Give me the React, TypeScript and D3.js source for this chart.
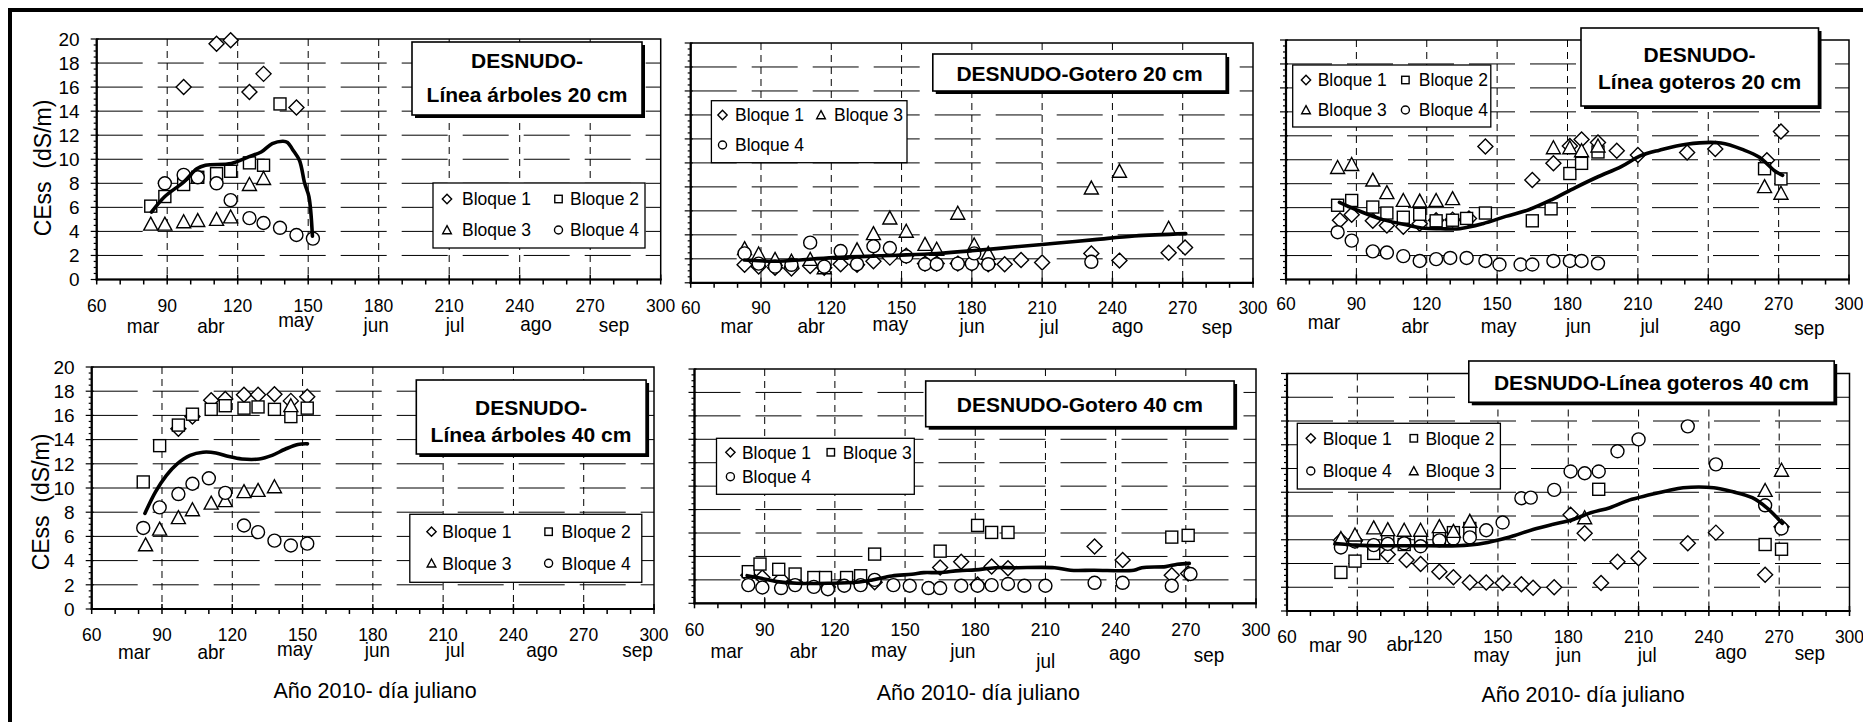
import React from "react";
import * as d3 from "d3";

type Pt = [number, number];

const X_TICKS = [60, 90, 120, 150, 180, 210, 240, 270, 300];
const X_MINOR = d3.range(60, 301, 10);
const GRID_X = [90, 120, 150, 180, 210, 240, 270];
const Y_TICKS = [0, 2, 4, 6, 8, 10, 12, 14, 16, 18, 20];
const Y_MINOR = d3.range(0, 20.01, 0.5);
const MONTHS = ["mar", "abr", "may", "jun", "jul", "ago", "sep"];
const Y_LABEL = "CEss  (dS/m)";
const X_LABEL = "Año 2010- día juliano";

// ---------- Panel 1: DESNUDO- Línea árboles 20 cm
const p1Title = ["DESNUDO-", "Línea árboles 20 cm"];
const p1B1: Pt[] = [[97, 16.0], [111, 19.6], [117, 19.9], [125, 15.6], [131, 17.1], [145, 14.3]];
const p1B2: Pt[] = [[83, 6.1], [89, 6.9], [97, 7.9], [103, 8.5], [111, 8.8], [117, 9.0], [125, 9.7], [131, 9.5], [138, 14.6]];
const p1B3: Pt[] = [[83, 4.6], [89, 4.6], [97, 4.8], [103, 4.9], [111, 5.0], [117, 5.2], [125, 7.9], [131, 8.4]];
const p1B4: Pt[] = [[89, 8.0], [97, 8.7], [103, 8.5], [111, 8.0], [117, 6.6], [125, 5.1], [131, 4.7], [138, 4.3], [145, 3.7], [152, 3.4]];
const p1Line: Pt[] = [[83.3, 5.6], [89, 6.9], [97, 8.1], [102.6, 9.2], [106.3, 9.5], [117.3, 9.65], [124.6, 10.2], [130, 10.6], [134.7, 11.3], [139.3, 11.5], [141.2, 11.4], [143.4, 10.8], [146.3, 9.9], [148.5, 8.0], [150.3, 6.9], [151.8, 3.6]];

// ---------- Panel 2: DESNUDO-Gotero 20 cm
const p2Title = ["DESNUDO-Gotero 20 cm"];
const p2B1: Pt[] = [[83, 1.5], [89, 1.35], [96, 1.25], [103, 1.2], [111, 1.4], [117, 1.25], [124, 1.55], [131, 1.5], [138, 1.8], [145, 2.1], [152, 2.25], [160, 1.6], [165, 1.6], [174, 1.6], [180, 1.6], [187, 1.55], [194, 1.55], [201, 1.9], [210, 1.7], [231, 2.45], [243, 1.85], [264, 2.5], [271, 2.95]];
const p2B3: Pt[] = [[83, 2.85], [89, 2.4], [96, 1.95], [103, 1.8], [111, 1.95], [117, 1.25], [124, 2.45], [131, 2.75], [138, 4.1], [145, 5.4], [152, 4.3], [160, 3.2], [165, 2.8], [174, 5.8], [181, 3.15], [187, 2.45], [231, 7.9], [243, 9.3], [264, 4.55]];
const p2B4: Pt[] = [[83, 2.45], [89, 1.6], [96, 1.35], [103, 1.5], [111, 3.35], [117, 1.35], [124, 2.65], [131, 1.55], [138, 3.05], [145, 2.9], [152, 2.2], [160, 1.55], [165, 1.55], [174, 1.6], [180, 1.6], [181, 2.45], [187, 1.55], [231, 1.75]];
const p2Line: Pt[] = [[82.8, 1.9], [97.5, 1.8], [121, 2.1], [148, 2.3], [165, 2.45], [180, 2.67], [198.7, 3.0], [215.6, 3.3], [232.5, 3.6], [249.4, 3.9], [271.3, 4.1]];

// ---------- Panel 3: DESNUDO- Línea goteros 20 cm
const p3Title = ["DESNUDO-", "Línea goteros 20 cm"];
const p3B1: Pt[] = [[83, 4.95], [88, 5.4], [97, 4.9], [103, 4.5], [110, 4.4], [117, 4.65], [124, 4.95], [131, 5.0], [138, 5.1], [145, 11.1], [165, 8.3], [174, 9.7], [181, 11.15], [186, 11.7], [193, 11.45], [201, 10.75], [210, 10.4], [231, 10.6], [243, 10.9], [265, 9.95], [271, 12.35]];
const p3B2: Pt[] = [[82, 6.2], [88, 6.6], [97, 6.05], [103, 5.55], [110, 5.2], [117, 5.45], [124, 4.9], [131, 4.95], [137, 5.1], [145, 5.55], [165, 4.9], [173, 5.9], [181, 8.85], [186, 9.7], [193, 10.65], [264, 9.25], [271, 8.4]];
const p3B3: Pt[] = [[82, 9.35], [88, 9.6], [97, 8.3], [103, 7.25], [110, 6.6], [117, 6.55], [124, 6.6], [131, 6.75], [174, 11.0], [181, 11.0], [186, 10.75], [193, 11.15], [264, 7.75], [271, 7.2]];
const p3B4: Pt[] = [[82, 3.95], [88, 3.25], [97, 2.35], [103, 2.25], [110, 1.95], [117, 1.55], [124, 1.7], [130, 1.8], [137, 1.8], [145, 1.55], [151, 1.25], [160, 1.25], [165, 1.25], [174, 1.55], [181, 1.55], [186, 1.55], [193, 1.35]];
const p3Line: Pt[] = [[82.8, 6.45], [91.5, 5.7], [101.3, 5.0], [111.2, 4.57], [117.8, 4.3], [125.9, 4.24], [134, 4.24], [143.9, 4.66], [153.7, 5.27], [163.5, 5.83], [173.4, 6.68], [183.2, 7.66], [193, 8.58], [202.9, 9.43], [211, 10.32], [219.2, 10.8], [230.7, 11.3], [245.4, 11.4], [255.3, 10.8], [261.8, 10.2], [268.4, 9.06], [271.7, 8.7]];

// ---------- Panel 4: DESNUDO- Línea árboles 40 cm
const p4Title = ["DESNUDO-", "Línea árboles 40 cm"];
const p4B1: Pt[] = [[97, 14.9], [103, 15.9], [111, 17.25], [117, 17.35], [125, 17.7], [131, 17.7], [138, 17.75], [145, 17.2], [152, 17.55]];
const p4B2: Pt[] = [[82, 10.5], [89, 13.5], [97, 15.2], [103, 16.1], [111, 16.5], [117, 16.8], [125, 16.6], [131, 16.7], [138, 16.5], [145, 15.9], [152, 16.6]];
const p4B3: Pt[] = [[83, 5.3], [89, 6.6], [97, 7.55], [103, 8.2], [111, 8.75], [117, 8.95], [125, 9.7], [131, 9.8], [138, 10.1], [145, 16.8]];
const p4B4: Pt[] = [[82, 6.7], [89, 8.4], [97, 9.5], [103, 10.35], [110, 10.8], [117, 9.6], [125, 6.9], [131, 6.35], [138, 5.65], [145, 5.25], [152, 5.4]];
const p4Line: Pt[] = [[82.7, 7.9], [87.3, 9.7], [91.9, 11.05], [96.5, 12.0], [102, 12.7], [107.5, 12.96], [113, 12.9], [118.6, 12.6], [124.1, 12.4], [131.5, 12.4], [137, 12.7], [142.5, 13.2], [148, 13.6], [152.1, 13.65]];

// ---------- Panel 5: DESNUDO-Gotero 40 cm
const p5Title = ["DESNUDO-Gotero 40 cm"];
const p5B1: Pt[] = [[83, 2.4], [89, 2.2], [97, 2.05], [103, 1.8], [111, 1.75], [117, 1.4], [124, 1.75], [131, 1.7], [137, 1.8], [165, 3.05], [174, 3.55], [181, 1.6], [187, 3.15], [194, 3.0], [231, 4.85], [243, 3.7], [264, 2.4], [271, 2.55]];
const p5B3: Pt[] = [[83, 2.7], [88, 3.35], [96, 2.9], [103, 2.5], [111, 2.2], [116, 2.2], [125, 2.2], [131, 2.35], [137, 4.2], [165, 4.45], [181, 6.65], [187, 6.05], [194, 6.05], [264, 5.65], [271, 5.8]];
const p5B4: Pt[] = [[83, 1.55], [89, 1.35], [97, 1.3], [103, 1.55], [111, 1.4], [117, 1.2], [124, 1.5], [131, 1.55], [137, 2.0], [145, 1.55], [152, 1.5], [160, 1.3], [165, 1.3], [174, 1.5], [181, 1.5], [187, 1.55], [194, 1.65], [201, 1.5], [210, 1.5], [231, 1.75], [243, 1.75], [264, 1.5], [272, 2.5]];
const p5Line: Pt[] = [[82.5, 2.36], [88.5, 2.13], [95.3, 1.85], [103.7, 1.71], [117.3, 1.71], [129.2, 1.79], [136, 1.99], [144.4, 2.33], [152.9, 2.48], [158, 2.62], [164.7, 2.62], [173.2, 2.79], [180, 2.85], [188.5, 3.04], [197, 3.04], [213.9, 3.04], [220.7, 2.82], [230.8, 2.82], [247.8, 2.82], [251.2, 3.04], [261.4, 3.13], [266.4, 3.33], [271.5, 3.41]];

// ---------- Panel 6: DESNUDO-Línea goteros 40 cm
const p6Title = ["DESNUDO-Línea goteros 40 cm"];
const p6B1: Pt[] = [[83, 5.95], [89, 5.95], [97, 5.45], [103, 4.75], [111, 4.3], [117, 3.95], [125, 3.3], [131, 2.85], [138, 2.4], [145, 2.4], [152, 2.35], [160, 2.25], [165, 1.95], [174, 2.0], [181, 8.1], [187, 6.55], [194, 2.35], [201, 4.15], [210, 4.45], [231, 5.7], [243, 6.6], [264, 3.05], [271, 7.1]];
const p6B2: Pt[] = [[83, 3.25], [89, 4.2], [97, 4.85], [103, 5.85], [110, 5.6], [117, 5.95], [125, 6.15], [131, 6.6], [138, 6.95], [193, 10.25], [264, 5.6], [271, 5.2]];
const p6B4: Pt[] = [[83, 5.35], [89, 5.85], [97, 5.55], [103, 5.65], [110, 5.7], [117, 5.45], [125, 5.95], [131, 6.1], [138, 6.2], [145, 6.8], [152, 7.45], [160, 9.5], [164, 9.55], [174, 10.2], [181, 11.75], [187, 11.6], [193, 11.75], [201, 13.45], [210, 14.45], [231, 15.55], [243, 12.35], [264, 8.9], [271, 6.95]];
const p6B3: Pt[] = [[83, 6.1], [89, 6.4], [97, 7.0], [103, 6.85], [110, 6.8], [117, 6.8], [125, 7.1], [131, 6.7], [138, 7.55], [187, 7.85], [264, 10.15], [271, 11.85]];
const p6Line: Pt[] = [[80.5, 5.69], [89.5, 5.55], [97.7, 5.5], [114.1, 5.5], [133, 5.5], [142, 5.64], [150.2, 5.97], [156.8, 6.34], [165, 6.87], [173.2, 7.29], [181.4, 7.66], [189.6, 8.27], [197.8, 8.7], [206, 9.34], [214.2, 9.76], [222.4, 10.13], [229, 10.38], [242.1, 10.38], [250.3, 10.04], [258.5, 9.54], [265, 8.64], [271.3, 7.38]];

// ---------- layout
type Shape = "diamond" | "square" | "triangle" | "circle";
interface Series { name: string; shape: Shape; data: Pt[]; }
interface LegendItem { name: string; shape: Shape; col: number; row: number; }
interface Panel {
  left: number; right: number; top: number; bottom: number;
  series: Series[]; line: Pt[];
  title: string[]; titleBox: [number, number, number, number]; titleCx: number; titleBase: number[];
  legendBox: [number, number, number, number]; legendItems: LegendItem[];
  legendRows: number[]; legendMarkX: number[]; legendTextX: number[];
  monthX: number[]; monthDy: number[]; numDy: number;
  yLabel?: [number, number]; xLabel?: [number, number]; yTickLabels: boolean;
}

const B1 = "Bloque 1", B2 = "Bloque 2", B3 = "Bloque 3", B4 = "Bloque 4";

const panels: Panel[] = [
  {
    left: 96.7, right: 660.7, top: 39, bottom: 279.5,
    series: [
      { name: B1, shape: "diamond", data: p1B1 }, { name: B2, shape: "square", data: p1B2 },
      { name: B3, shape: "triangle", data: p1B3 }, { name: B4, shape: "circle", data: p1B4 }],
    line: p1Line, title: p1Title, titleBox: [315.3, 3, 545.3, 76], titleCx: 430.3, titleBase: [29.3, 62.7],
    legendBox: [336.3, 144, 548.3, 209],
    legendItems: [{ name: B1, shape: "diamond", col: 0, row: 0 }, { name: B2, shape: "square", col: 1, row: 0 },
      { name: B3, shape: "triangle", col: 0, row: 1 }, { name: B4, shape: "circle", col: 1, row: 1 }],
    legendRows: [160, 191], legendMarkX: [350.3, 461.8], legendTextX: [365.3, 473.3],
    monthX: [79.7, 108.6, 144.8, 178.9, 212.5, 246.9, 280.1], monthDy: [53, 53, 47, 52, 52, 51, 52], numDy: 32,
    yLabel: [43, 168], yTickLabels: true,
  },
  {
    left: 690.7, right: 1253, top: 43, bottom: 282.8,
    series: [
      { name: B1, shape: "diamond", data: p2B1 }, { name: B3, shape: "triangle", data: p2B3 },
      { name: B4, shape: "circle", data: p2B4 }],
    line: p2Line, title: p2Title, titleBox: [242.1, 11, 535.5, 48], titleCx: 388.8, titleBase: [38],
    legendBox: [20.7, 57.7, 216.3, 119.7],
    legendItems: [{ name: B1, shape: "diamond", col: 0, row: 0 }, { name: B3, shape: "triangle", col: 1, row: 0 },
      { name: B4, shape: "circle", col: 0, row: 1 }],
    legendRows: [72, 102], legendMarkX: [31.8, 130.3], legendTextX: [44.3, 143.3],
    monthX: [79.7, 111.4, 145.2, 180.1, 213, 246.4, 284.6], monthDy: [50, 50, 48, 50, 51, 50, 51], numDy: 31,
    yTickLabels: false,
  },
  {
    left: 1286, right: 1849, top: 40, bottom: 279.5,
    series: [
      { name: B1, shape: "diamond", data: p3B1 }, { name: B2, shape: "square", data: p3B2 },
      { name: B3, shape: "triangle", data: p3B3 }, { name: B4, shape: "circle", data: p3B4 }],
    line: p3Line, title: p3Title, titleBox: [295, -12, 532.5, 66], titleCx: 413.6, titleBase: [21.7, 49.3],
    legendBox: [6.7, 25, 204.8, 87],
    legendItems: [{ name: B1, shape: "diamond", col: 0, row: 0 }, { name: B2, shape: "square", col: 1, row: 0 },
      { name: B3, shape: "triangle", col: 0, row: 1 }, { name: B4, shape: "circle", col: 1, row: 1 }],
    legendRows: [40, 70], legendMarkX: [20, 119.4], legendTextX: [31.7, 132.8],
    monthX: [76.2, 115.1, 150.6, 184.7, 215.1, 247.1, 283.1], monthDy: [49, 53, 53, 53, 53, 52, 55], numDy: 30,
    yTickLabels: false,
  },
  {
    left: 91.7, right: 654, top: 367, bottom: 609,
    series: [
      { name: B1, shape: "diamond", data: p4B1 }, { name: B2, shape: "square", data: p4B2 },
      { name: B3, shape: "triangle", data: p4B3 }, { name: B4, shape: "circle", data: p4B4 }],
    line: p4Line, title: p4Title, titleBox: [324.6, 13, 554.4, 87], titleCx: 439.3, titleBase: [47.5, 74.5],
    legendBox: [318.1, 147.3, 550.1, 215.3],
    legendItems: [{ name: B1, shape: "diamond", col: 0, row: 0 }, { name: B2, shape: "square", col: 1, row: 0 },
      { name: B3, shape: "triangle", col: 0, row: 1 }, { name: B4, shape: "circle", col: 1, row: 1 }],
    legendRows: [164.7, 196.3], legendMarkX: [339.8, 456.9], legendTextX: [350.6, 469.9],
    monthX: [78.2, 111, 146.7, 181.9, 215.2, 252.2, 293], monthDy: [50, 50, 47, 48, 48, 48, 48], numDy: 32,
    yLabel: [41, 502], xLabel: [375, 698.3], yTickLabels: true,
  },
  {
    left: 694.5, right: 1256, top: 369, bottom: 603.3,
    series: [
      { name: B1, shape: "diamond", data: p5B1 }, { name: B3, shape: "square", data: p5B3 },
      { name: B4, shape: "circle", data: p5B4 }],
    line: p5Line, title: p5Title, titleBox: [231.2, 12, 539.6, 57.7], titleCx: 385.4, titleBase: [42.7],
    legendBox: [22, 69.3, 219.8, 125.3],
    legendItems: [{ name: B1, shape: "diamond", col: 0, row: 0 }, { name: B3, shape: "square", col: 1, row: 0 },
      { name: B4, shape: "circle", col: 0, row: 1 }],
    legendRows: [83.3, 107.7], legendMarkX: [35.9, 136.3], legendTextX: [47.4, 148.2],
    monthX: [73.8, 106.6, 143.1, 174.7, 210.1, 243.9, 279.9], monthDy: [55, 55, 54, 55, 65, 57, 58.7], numDy: 32.5,
    xLabel: [978.3, 700], yTickLabels: false,
  },
  {
    left: 1287, right: 1849.5, top: 373.5, bottom: 611,
    series: [
      { name: B1, shape: "diamond", data: p6B1 }, { name: B2, shape: "square", data: p6B2 },
      { name: B4, shape: "circle", data: p6B4 }, { name: B3, shape: "triangle", data: p6B3 }],
    line: p6Line, title: p6Title, titleBox: [181.8, -12.5, 547.2, 28.8], titleCx: 364.5, titleBase: [16.5],
    legendBox: [10.3, 49.8, 213.4, 115.5],
    legendItems: [{ name: B1, shape: "diamond", col: 0, row: 0 }, { name: B2, shape: "square", col: 1, row: 0 },
      { name: B4, shape: "circle", col: 0, row: 1 }, { name: B3, shape: "triangle", col: 1, row: 1 }],
    legendRows: [64.8, 97.5], legendMarkX: [23.8, 126.8], legendTextX: [35.7, 138.4],
    monthX: [76.3, 108.3, 147.2, 180.2, 213.7, 249.4, 283.1], monthDy: [40.7, 40, 50.7, 50.7, 50.7, 48, 49], numDy: 31.5,
    xLabel: [1583, 701.7], yTickLabels: false,
  },
];

const FONT = "'Liberation Sans', Arial, Helvetica, sans-serif";

function Marker({ shape, x, y, s }: { shape: Shape; x: number; y: number; s: number }) {
  const sw = 1.4;
  if (shape === "diamond") {
    const r = 7.5 * s;
    return <path d={`M${x},${y - r}L${x + r},${y}L${x},${y + r}L${x - r},${y}Z`} fill="#fff" stroke="#000" strokeWidth={sw} />;
  }
  if (shape === "square") {
    const h = 6 * s;
    return <rect x={x - h} y={y - h} width={2 * h} height={2 * h} fill="#fff" stroke="#000" strokeWidth={sw} />;
  }
  if (shape === "triangle") {
    const r = 7 * s;
    return <path d={`M${x},${y - r}L${x + r},${y + r * 0.85}L${x - r},${y + r * 0.85}Z`} fill="#fff" stroke="#000" strokeWidth={sw} />;
  }
  return <circle cx={x} cy={y} r={6.5 * s} fill="#fff" stroke="#000" strokeWidth={sw} />;
}

function PanelView({ p }: { p: Panel }) {
  const x = d3.scaleLinear().domain([60, 300]).range([p.left, p.right]);
  const y = d3.scaleLinear().domain([0, 20]).range([p.bottom, p.top]);
  const line = d3.line<Pt>().x(d => x(d[0])).y(d => y(d[1])).curve(d3.curveCatmullRom.alpha(0.5));
  const L = p.left, T = p.top;
  const [tx0, ty0, tx1, ty1] = p.titleBox;
  const [lx0, ly0, lx1, ly1] = p.legendBox;
  return (
    <g>
      <rect x={p.left} y={p.top} width={p.right - p.left} height={p.bottom - p.top} fill="#fff" />
      {Y_TICKS.filter(v => v > 0 && v < 20).map(v => (
        <line key={"hg" + v} x1={p.left} x2={p.right} y1={y(v)} y2={y(v)} stroke="#000" strokeWidth={1} strokeDasharray="46,15" />
      ))}
      {GRID_X.map(v => (
        <line key={"vg" + v} x1={x(v)} x2={x(v)} y1={p.top} y2={p.bottom} stroke="#000" strokeWidth={1} strokeDasharray="7,5" />
      ))}
      <rect x={p.left} y={p.top} width={p.right - p.left} height={p.bottom - p.top} fill="none" stroke="#000" strokeWidth={1.5} />
      <line x1={p.left} x2={p.left} y1={p.top} y2={p.bottom + 1} stroke="#000" strokeWidth={2.2} />
      <line x1={p.left - 1} x2={p.right + 1} y1={p.bottom} y2={p.bottom} stroke="#000" strokeWidth={2.2} />
      {Y_MINOR.map(v => (
        <line key={"ym" + v} x1={p.left - (v % 2 === 0 ? 6 : 3)} x2={p.left + (v % 2 === 0 ? 2 : 0)} y1={y(v)} y2={y(v)} stroke="#000" strokeWidth={1.2} />
      ))}
      {X_MINOR.map(v => (
        <line key={"xm" + v} x1={x(v)} x2={x(v)} y1={p.bottom - ((v - 60) % 30 === 0 ? 5 : 0)} y2={p.bottom + 5} stroke="#000" strokeWidth={1.5} />
      ))}
      {p.yTickLabels && Y_TICKS.map(v => (
        <text key={"yl" + v} x={p.left - 17} y={y(v)} dy="0.36em" textAnchor="end" fontSize={19} fontFamily={FONT}>{v}</text>
      ))}
      {X_TICKS.map(v => (
        <text key={"xl" + v} x={x(v)} y={p.bottom + p.numDy} textAnchor="middle" fontSize={17.5} fontFamily={FONT}>{v}</text>
      ))}
      {MONTHS.map((m, i) => (
        <text key={"mo" + m} transform={`translate(${x(p.monthX[i])},${p.bottom + p.monthDy[i]}) scale(0.9,1)`} textAnchor="middle" fontSize={21} fontFamily={FONT}>{m}</text>
      ))}
      {p.series.map(s => (
        <g key={s.name}>
          {s.data.map((d, i) => <Marker key={i} shape={s.shape} x={x(d[0])} y={y(d[1])} s={1} />)}
        </g>
      ))}
      <path d={line(p.line) || ""} fill="none" stroke="#000" strokeWidth={3.6} strokeLinejoin="round" strokeLinecap="round" />
      {/* legend */}
      <rect x={L + lx0} y={T + ly0} width={lx1 - lx0} height={ly1 - ly0} fill="#fff" stroke="#000" strokeWidth={1.3} />
      {p.legendItems.map(it => (
        <g key={it.name}>
          <Marker shape={it.shape} x={L + p.legendMarkX[it.col]} y={T + p.legendRows[it.row]} s={0.62} />
          <text x={L + p.legendTextX[it.col]} y={T + p.legendRows[it.row]} dy="0.36em" fontSize={17.5} fontFamily={FONT}>{it.name}</text>
        </g>
      ))}
      {/* title */}
      <rect x={L + tx0 + 3} y={T + ty0 + 3} width={tx1 - tx0} height={ty1 - ty0} fill="#000" />
      <rect x={L + tx0} y={T + ty0} width={tx1 - tx0} height={ty1 - ty0} fill="#fff" stroke="#000" strokeWidth={1.6} />
      {p.title.map((t, i) => (
        <text key={t} x={L + p.titleCx} y={T + p.titleBase[i]} textAnchor="middle" fontSize={21} fontWeight="bold" fontFamily={FONT}>{t}</text>
      ))}
      {p.yLabel && (
        <text transform={`translate(${p.yLabel[0]},${p.yLabel[1]}) rotate(-90)`} textAnchor="middle" dy="0.36em" fontSize={23} fontFamily={FONT} style={{ whiteSpace: "pre" }}>{Y_LABEL}</text>
      )}
      {p.xLabel && (
        <text x={p.xLabel[0]} y={p.xLabel[1]} textAnchor="middle" fontSize={21.5} fontFamily={FONT}>{X_LABEL}</text>
      )}
    </g>
  );
}

export default function App() {
  return (
    <svg width={1863} height={722} style={{ position: "fixed", left: 0, top: 0, background: "#fff" }}>
      <rect x={0} y={0} width={1863} height={722} fill="#fff" />
      <rect x={10} y={10} width={1900} height={760} fill="none" stroke="#000" strokeWidth={4} />
      {panels.map((p, i) => <PanelView key={i} p={p} />)}
    </svg>
  );
}
